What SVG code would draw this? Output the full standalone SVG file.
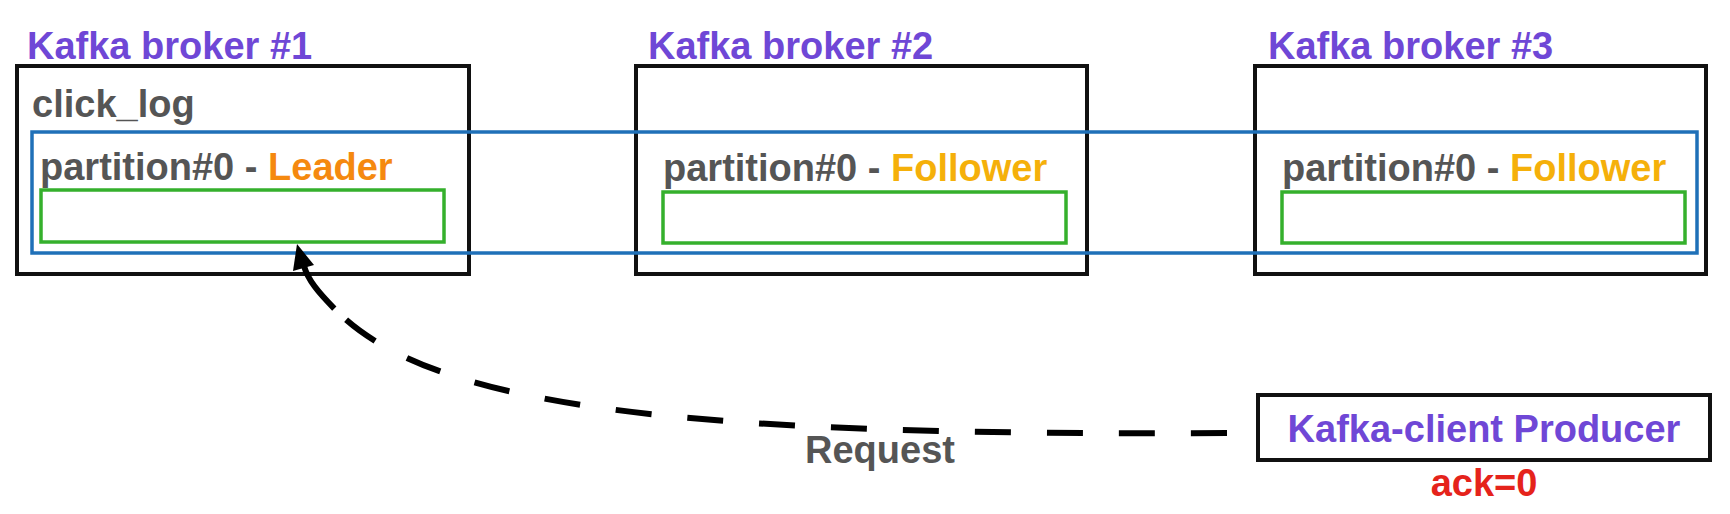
<svg xmlns="http://www.w3.org/2000/svg" width="1730" height="514" viewBox="0 0 1730 514">
  <style>
    text { font-family: "Liberation Sans", Arial, Helvetica, sans-serif; font-weight: bold; font-size: 38px; }
    .title { fill: #6f47d6; }
    .gray { fill: #555555; }
    .leader { fill: #f5890f; }
    .follower { fill: #f5b00a; }
    .red { fill: #e5231b; }
    .broker { fill: none; stroke: #111111; stroke-width: 4; }
    .partition { fill: none; stroke: #1f70b8; stroke-width: 3.5; }
    .segment { fill: none; stroke: #35b02c; stroke-width: 3.5; }
  </style>
  <rect width="1730" height="514" fill="#ffffff"/>

  <g id="broker1">
    <text class="title" x="27" y="59">Kafka broker #1</text>
    <rect class="broker" x="17" y="66" width="452" height="208"/>
    <text class="gray" x="32" y="117">click_log</text>
  </g>
  <g id="broker2">
    <text class="title" x="648" y="59">Kafka broker #2</text>
    <rect class="broker" x="636" y="66" width="451" height="208"/>
  </g>
  <g id="broker3">
    <text class="title" x="1268" y="59">Kafka broker #3</text>
    <rect class="broker" x="1255" y="66" width="451" height="208"/>
  </g>

  <g id="partition0">
    <rect class="partition" x="32" y="132" width="1665" height="121"/>
  </g>

  <g id="replica1">
    <text class="gray" x="40" y="180">partition#0 - <tspan class="leader">Leader</tspan></text>
    <rect class="segment" x="41" y="190" width="403" height="52"/>
  </g>
  <g id="replica2">
    <text class="gray" x="663" y="181">partition#0 - <tspan class="follower">Follower</tspan></text>
    <rect class="segment" x="663" y="192" width="403" height="51"/>
  </g>
  <g id="replica3">
    <text class="gray" x="1282" y="181">partition#0 - <tspan class="follower">Follower</tspan></text>
    <rect class="segment" x="1282" y="192" width="403" height="51"/>
  </g>

  <g id="producer">
    <rect class="broker" x="1258" y="395" width="452" height="65"/>
    <text class="title" x="1484" y="442" text-anchor="middle">Kafka-client Producer</text>
    <text class="red" x="1484" y="496" text-anchor="middle">ack=0</text>
  </g>

  <g id="connectors">
    <path d="M1227,433 C711,435.5 435,413.5 334.3,308.6" fill="none" stroke="#000" stroke-width="6" stroke-dasharray="36 36"/>
    <path d="M334.3,308.6 C318,292 308,280 304,266" fill="none" stroke="#000" stroke-width="6"/>
    <polygon points="297,244 314,265 293,271" fill="#000"/>
    <text class="gray" x="805" y="463">Request</text>
  </g>
</svg>
